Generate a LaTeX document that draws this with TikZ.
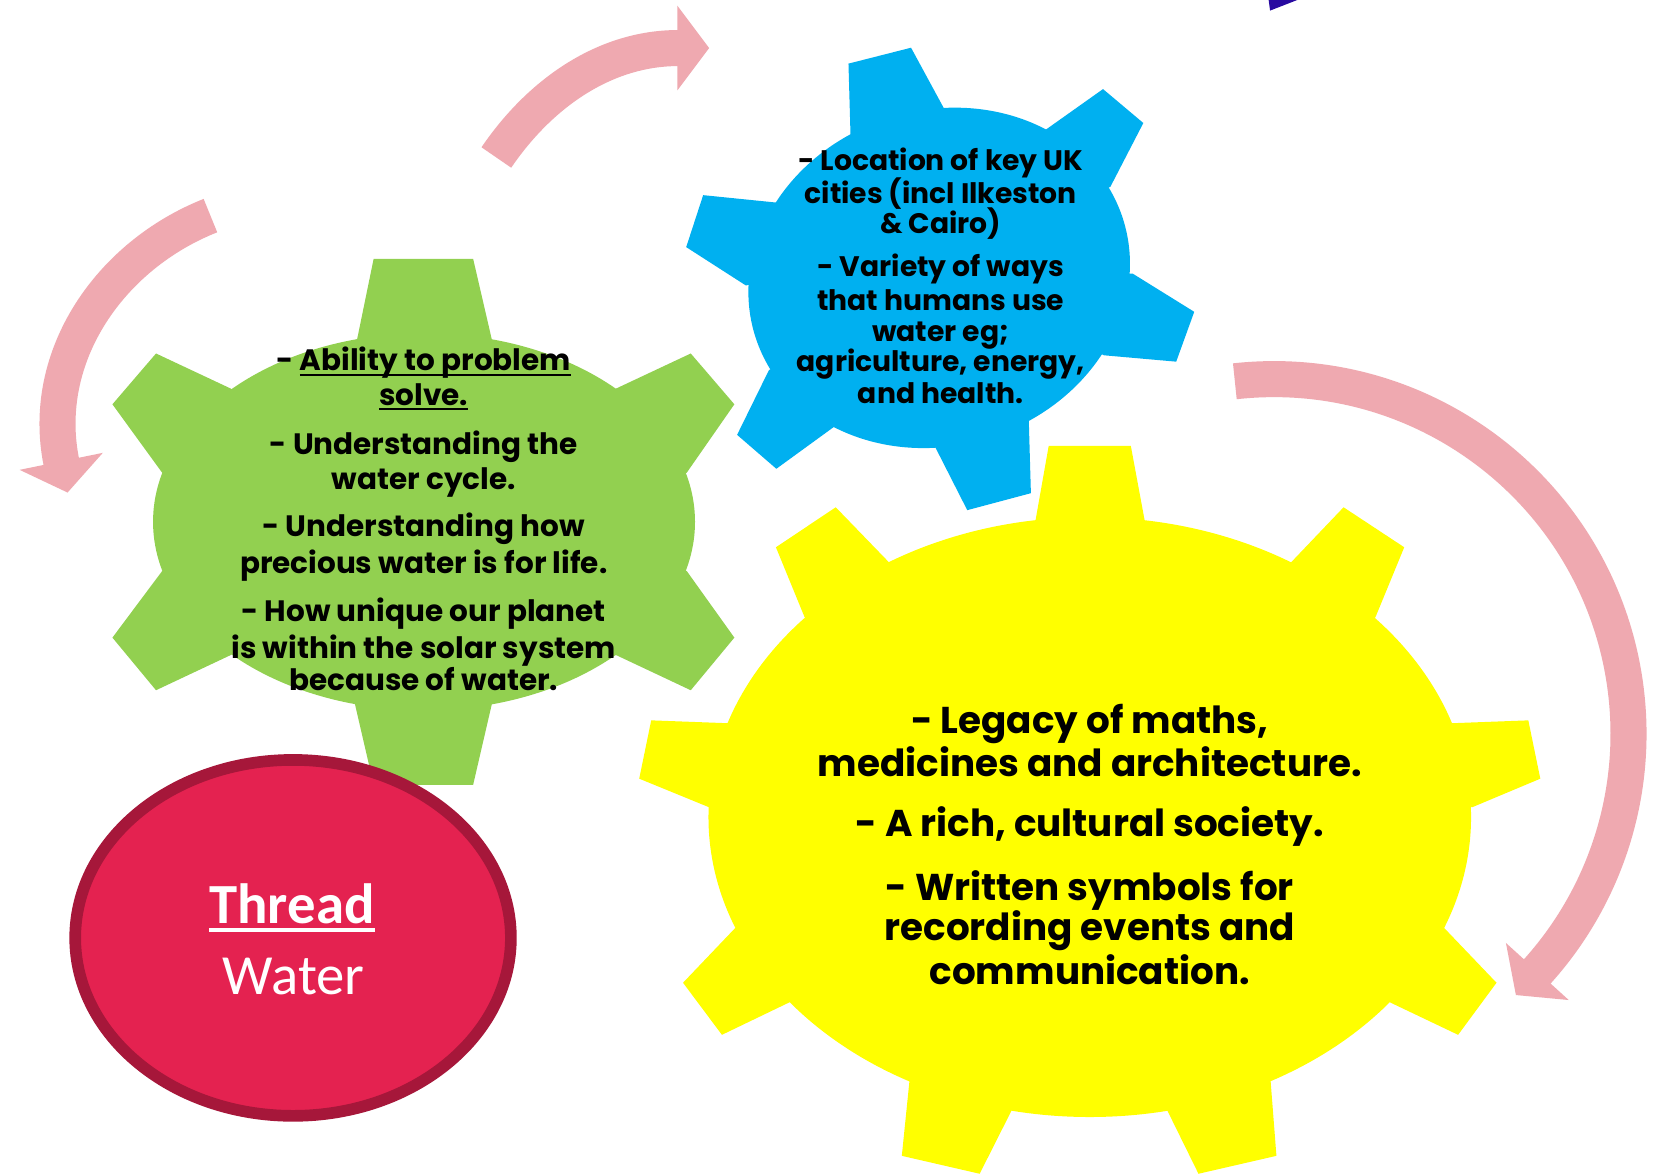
\documentclass[tikz,border=0pt]{standalone}
\usepackage{fontspec}
\newfontfamily\gothic{Poppins}
\newfontfamily\calib{Carlito}
\definecolor{gGreen}{RGB}{146,208,80}
\definecolor{gBlue}{RGB}{0,176,240}
\definecolor{gYellow}{RGB}{255,255,0}
\definecolor{arrowPink}{RGB}{239,169,176}
\definecolor{threadRed}{RGB}{228,34,80}
\definecolor{threadEdge}{RGB}{166,23,58}
\definecolor{dBlue}{RGB}{40,10,160}
\newcommand\myul[3]{\setbox0=\hbox{#3}\rlap{\rule[-#1]{\wd0}{#2}}\box0}
\tikzset{
  shaft/.style={draw=arrowPink, line width=34pt, line cap=butt},
  head/.style={fill=arrowPink},
  gtxt/.style={anchor=base, inner sep=0pt, font=\gothic\bfseries\fontsize{27.8}{32}\selectfont},
  btxt/.style={anchor=base, inner sep=0pt, font=\gothic\bfseries\fontsize{26.6}{30}\selectfont},
  ytxt/.style={anchor=base, inner sep=0pt, font=\gothic\bfseries\fontsize{35.2}{40}\selectfont},
  ttxt/.style={anchor=base, inner sep=0pt, text=white, font=\calib\fontsize{53.5}{60}\selectfont},
}
\begin{document}
\begin{tikzpicture}[x=1pt,y=-1pt]
\clip (0,0) rectangle (1568,1107);
\fill[white] (0,0) rectangle (1568,1107);

% dark blue corner shape
\fill[dBlue] (1195.5,-5) -- (1197.5,10) -- (1236,-5) -- cycle;

% ---- pink cycle arrows
\coordinate (tA) at (468,148.5);
\coordinate (tB) at (639.6,45.3);
\draw[shaft] (tA) .. controls (507.9,89.8) and (568.6,45.3) .. (tB);
\fill[head] (638.6,5.3) -- (668.6,45.3) -- (638.6,85.3) -- cycle;

\coordinate (lA) at (198.4,203.3);
\coordinate (lB) at (57.9,436);
\draw[shaft] (lA) .. controls (103.6,240.8) and (37.6,336) .. (lB);
\fill[head] (96.9,427) -- (63.7,464.4) -- (18.5,443) -- cycle;

\coordinate (rA) at (1164.3,359.5);
\draw[shaft] (rA) arc[start angle=-96.3, end angle=42.2, radius=334.5];
\fill[head] (1479.1,942.9) -- (1429.3,938.2) -- (1419.9,889.1) -- cycle;

% ---- yellow gear
\coordinate (yc) at (1027.5,770.4);
\fill[gYellow] (yc) ellipse [x radius=359.5, y radius=282.8];
\fill[gYellow] (976.4,490.4) -- (988.8,420.3) -- (1066.2,420.3) -- (1079.2,490.4) -- (yc) -- cycle;
\fill[gYellow] (1217.7,529.8) -- (1266.8,478.3) -- (1324,516) -- (1296.8,582.1) -- (yc) -- cycle;
\fill[gYellow] (1369.1,681.9) -- (1441,679.2) -- (1452.3,734.2) -- (1388.4,761) -- (yc) -- cycle;
\fill[gYellow] (1361.8,875.1) -- (1411,926.6) -- (1374.8,975.7) -- (1311,945.3) -- (yc) -- cycle;
\fill[gYellow] (1198,1019) -- (1203.5,1089.8) -- (1130,1106.7) -- (1100.7,1047.2) -- (yc) -- cycle;
\fill[gYellow] (953.7,1047.2) -- (923.7,1106.7) -- (850.3,1089.8) -- (857.6,1018.2) -- (yc) -- cycle;
\fill[gYellow] (745.7,944.4) -- (680.7,975.7) -- (644,926.6) -- (693.1,875.1) -- (yc) -- cycle;
\fill[gYellow] (668.2,761) -- (602.7,734.2) -- (614,679.2) -- (686.3,681.9) -- (yc) -- cycle;
\fill[gYellow] (758.7,582.1) -- (731.6,516) -- (788,478.3) -- (837.8,529.8) -- (yc) -- cycle;

% ---- green gear
\coordinate (gc) at (399.8,492);
\fill[gGreen] (gc) ellipse [x radius=255.5, y radius=177.7];
\fill[gGreen] (336.7,320) -- (352.3,244) -- (446.1,244) -- (463.7,320) -- (gc) -- cycle;
\fill[gGreen] (581,366.3) -- (651.3,333.3) -- (692.4,381.2) -- (647.5,445.7) -- (gc) -- cycle;
\fill[gGreen] (647.5,538.4) -- (692.4,601.2) -- (651.3,650.8) -- (581,617.7) -- (gc) -- cycle;
\fill[gGreen] (463.7,664) -- (446.1,740) -- (352.3,740) -- (334.7,664) -- (gc) -- cycle;
\fill[gGreen] (217.4,617.7) -- (147.1,650.8) -- (106,601.2) -- (152.9,538.4) -- (gc) -- cycle;
\fill[gGreen] (152.9,445.7) -- (106,381.2) -- (147.1,333.3) -- (217.4,366.3) -- (gc) -- cycle;

% ---- blue gear
\coordinate (bc) at (885.5,262);
\fill[gBlue, rotate around={18:(bc)}] (bc) ellipse [x radius=182, y radius=158];
\fill[gBlue] (802,130) -- (800,60) -- (859,45) -- (891,104) -- (bc) -- cycle;
\fill[gBlue] (985,123) -- (1040,84) -- (1078,116) -- (1047,176) -- (bc) -- cycle;
\fill[gBlue] (1068,258) -- (1126,294) -- (1109,341) -- (1041,335) -- (bc) -- cycle;
\fill[gBlue] (970,396) -- (972,465) -- (912,481) -- (881,420) -- (bc) -- cycle;
\fill[gBlue] (787,402) -- (732,442) -- (695,410) -- (725,349) -- (bc) -- cycle;
\fill[gBlue] (703,269) -- (647,233) -- (663,184) -- (732,191) -- (bc) -- cycle;

% ---- thread ellipse
\filldraw[fill=threadRed, draw=threadEdge, line width=11pt] (276.3,884.3) ellipse [x radius=205.4, y radius=167.8];

% ---- texts: green gear
\node[gtxt] (g1) at (399.5,349.8) {- \myul{4.5pt}{2pt}{Ability to problem}};
\node[gtxt] (g2) at (399.5,382.5) {\myul{4.5pt}{2pt}{solve.}};
\node[gtxt] (g3) at (399.5,429) {- Understanding the};
\node[gtxt] (g4) at (399.5,462) {water cycle.};
\node[gtxt] (g5) at (399.5,506) {- Understanding how};
\node[gtxt] (g6) at (399.5,540.6) {precious water is for life.};
\node[gtxt] (g7) at (399.5,586.1) {- How unique our planet};
\node[gtxt] (g8) at (399.5,620.7) {is within the solar system};
\node[gtxt] (g9) at (399.5,651.5) {because of water.};

% ---- texts: blue gear
\node[btxt] (b1) at (887,160.9) {- Location of key UK};
\node[btxt] (b2) at (887,191.7) {cities (incl Ilkeston};
\node[btxt] (b3) at (887,220.6) {\& Cairo)};
\node[btxt] (b4) at (887,260.9) {- Variety of ways};
\node[btxt] (b5) at (887,292.3) {that humans use};
\node[btxt] (b6) at (887,322.1) {water eg;};
\node[btxt] (b7) at (887,350.4) {agriculture, energy,};
\node[btxt] (b8) at (887,380.3) {and health.};

% ---- texts: yellow gear
\node[ytxt] (y1) at (1027.5,691.4) {- Legacy of maths,};
\node[ytxt] (y2) at (1027.5,732.3) {medicines and architecture.};
\node[ytxt] (y3) at (1027.5,788.9) {- A rich, cultural society.};
\node[ytxt] (y4) at (1027.5,848.6) {- Written symbols for};
\node[ytxt] (y5) at (1027.5,886.9) {recording events and};
\node[ytxt] (y6) at (1027.5,928.7) {communication.};

% ---- thread texts
\node[ttxt, font=\calib\bfseries\fontsize{53.5}{60}\selectfont] (thr) at (275.3,870.6) {\myul{7.8pt}{3.1pt}{Thread}};
\node[ttxt] (wat) at (277,938) {Water};
\end{tikzpicture}
\end{document}
